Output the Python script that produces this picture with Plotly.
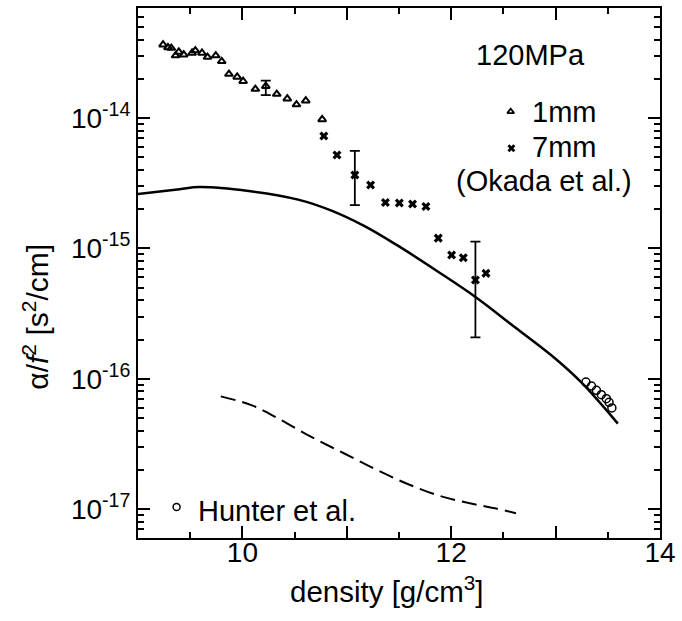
import math
import plotly.graph_objects as go

# Okada et al., 1 mm sample (triangles)
tri_density = [9.240, 9.287, 9.319, 9.360, 9.391, 9.438, 9.518, 9.549, 9.613, 9.666,
               9.745, 9.802, 9.871, 9.950, 10.007, 10.124, 10.224, 10.329, 10.430,
               10.518, 10.607, 10.764]
tri_alpha = [3.66e-14, 3.49e-14, 3.45e-14, 3.02e-14, 3.22e-14, 3.07e-14, 3.16e-14,
             3.30e-14, 3.16e-14, 2.94e-14, 3.02e-14, 2.73e-14, 2.18e-14, 2.07e-14,
             1.92e-14, 1.67e-14, 1.76e-14, 1.53e-14, 1.41e-14, 1.27e-14, 1.36e-14,
             9.77e-15]

# Okada et al., 7 mm sample (crosses)
crs_density = [10.780, 10.906, 11.077, 11.228, 11.370, 11.503, 11.630, 11.758,
               11.876, 12.004, 12.116, 12.232, 12.333]
crs_alpha = [7.28e-15, 5.21e-15, 3.66e-15, 3.07e-15, 2.25e-15, 2.23e-15, 2.19e-15,
             2.10e-15, 1.20e-15, 8.91e-16, 8.49e-16, 5.73e-16, 6.44e-16]

# Points carrying error bars (upper / lower limits)
err_density = [10.224, 11.077, 12.232]
err_alpha = [1.76e-14, 3.66e-15, 5.73e-16]
err_upper = [1.94e-14, 5.60e-15, 1.13e-15]
err_lower = [1.50e-14, 2.15e-15, 2.08e-16]

# Hunter et al. (circles)
hun_density = [13.290, 13.344, 13.391, 13.438, 13.486, 13.512, 13.539]
hun_alpha = [9.44e-17, 8.80e-17, 8.15e-17, 7.55e-17, 7.04e-17, 6.59e-17, 5.97e-17]

# Calculated curves
calc_density = [9.0, 9.398, 9.587, 10.06, 10.534, 10.847, 11.166, 11.481, 11.86,
                12.239, 12.617, 12.996, 13.249, 13.596]
calc_alpha = [2.62e-15, 2.85e-15, 2.96e-15, 2.76e-15, 2.37e-15, 1.96e-15, 1.49e-15,
              1.06e-15, 6.75e-16, 4.21e-16, 2.46e-16, 1.43e-16, 9.33e-17, 4.53e-17]

dash_density = [9.793, 10.092, 10.345, 10.660, 10.976, 11.292, 11.607, 11.923,
                12.222, 12.43, 12.62]
dash_alpha = [7.33e-17, 6.25e-17, 4.95e-17, 3.58e-17, 2.67e-17, 1.99e-17, 1.53e-17,
              1.24e-17, 1.09e-17, 1.01e-17, 9.3e-18]

x_ticks = [9, 10, 11, 12, 13, 14]
x_ticklabels = ["", "10", "", "12", "", "14"]
y_ticks = [1e-17, 1e-16, 1e-15, 1e-14]
y_ticklabels = ["10<sup>-17</sup>", "10<sup>-16</sup>", "10<sup>-15</sup>", "10<sup>-14</sup>"]

FONT = "Liberation Sans, Arial, Helvetica, sans-serif"
fs = 28
fs_text = 29

y_minor = [k * 10.0 ** e for e in range(-18, -13) for k in range(2, 10)]
x_minor = [9.5, 10.5, 11.5, 12.5, 13.5]

fig = go.Figure()

fig.add_trace(go.Scatter(x=calc_density, y=calc_alpha, mode="lines",
                         line=dict(color="black", width=2.5, shape="spline")))
fig.add_trace(go.Scatter(x=dash_density, y=dash_alpha, mode="lines",
                         line=dict(color="black", width=2, dash="15px,7px", shape="spline")))

fig.add_trace(go.Scatter(x=tri_density, y=tri_alpha, mode="markers",
                         marker=dict(symbol="triangle-up-open", size=7, color="black",
                                     line=dict(width=2, color="black"))))
fig.add_trace(go.Scatter(x=crs_density, y=crs_alpha, mode="markers",
                         marker=dict(symbol="x", size=8, color="black",
                                     line=dict(width=0))))
fig.add_trace(go.Scatter(
    x=err_density, y=err_alpha, mode="markers",
    marker=dict(size=1, color="rgba(0,0,0,0)"),
    error_y=dict(type="data", symmetric=False,
                 array=[u - v for u, v in zip(err_upper, err_alpha)],
                 arrayminus=[v - l for v, l in zip(err_alpha, err_lower)],
                 color="black", thickness=1.8, width=5)))
fig.add_trace(go.Scatter(x=hun_density, y=hun_alpha, mode="markers",
                         marker=dict(symbol="circle-open", size=8, color="black",
                                     line=dict(width=1.5, color="black"))))

# Legend glyphs on a hidden unit overlay
fig.add_trace(go.Scatter(x=[0.714], y=[0.8045], xaxis="x2", yaxis="y2", mode="markers",
                         marker=dict(symbol="triangle-up-open", size=6, color="black",
                                     line=dict(width=1.8, color="black"))))
fig.add_trace(go.Scatter(x=[0.7153], y=[0.7355], xaxis="x2", yaxis="y2", mode="markers",
                         marker=dict(symbol="x", size=7, color="black", line=dict(width=0))))
fig.add_trace(go.Scatter(x=[0.0739], y=[0.0583], xaxis="x2", yaxis="y2", mode="markers",
                         marker=dict(symbol="circle-open", size=7, color="black",
                                     line=dict(width=1.5, color="black"))))

axis_common = dict(showline=True, linecolor="black", linewidth=2, mirror="ticks",
                   ticks="inside", ticklen=12, tickwidth=1.8, tickcolor="black",
                   showgrid=False, zeroline=False,
                   tickfont=dict(family=FONT, size=fs, color="black"))

fig.update_layout(
    width=682, height=621,
    margin=dict(l=138, r=16, t=6, b=83),
    paper_bgcolor="white", plot_bgcolor="white",
    showlegend=False,
    font=dict(family=FONT, size=fs, color="black"),
    xaxis=dict(range=[9, 14], tickmode="array", tickvals=x_ticks, ticktext=x_ticklabels,
               ticklabelstandoff=-12,
               minor=dict(tickmode="array", tickvals=x_minor, ticks="inside", ticklen=6,
                          tickwidth=1.5, tickcolor="black"),
               **axis_common),
    yaxis=dict(type="log", range=[math.log10(6e-18), math.log10(7e-14)],
               tickmode="array", tickvals=y_ticks, ticktext=y_ticklabels,
               minor=dict(tickmode="array", tickvals=y_minor, ticks="inside", ticklen=6,
                          tickwidth=1.5, tickcolor="black"),
               **axis_common),
    xaxis2=dict(overlaying="x", anchor="y2", range=[0, 1], visible=False),
    yaxis2=dict(overlaying="y", anchor="x2", range=[0, 1], visible=False),
)

def label(text, x, y, xanchor="left", angle=0, size=fs_text):
    fig.add_annotation(text=text, x=x, y=y, xref="paper", yref="paper",
                       xanchor=xanchor, yanchor="middle", showarrow=False,
                       textangle=angle, font=dict(family=FONT, size=size, color="black"))

label("120MPa", 0.644, 0.9117)
label("1mm", 0.750, 0.8045)
label("7mm", 0.750, 0.737)
label("(Okada et al.)", 0.606, 0.673)
label("Hunter et al.", 0.1117, 0.0508)
label("density [g/cm<sup>3</sup>]", 0.477, -0.097, xanchor="center", size=29.5)
label("α/<i>f</i><sup>2</sup> [s<sup>2</sup>/cm]", -0.195, 0.418, xanchor="center",
      angle=-90, size=30)

fig.write_html("out.html")
